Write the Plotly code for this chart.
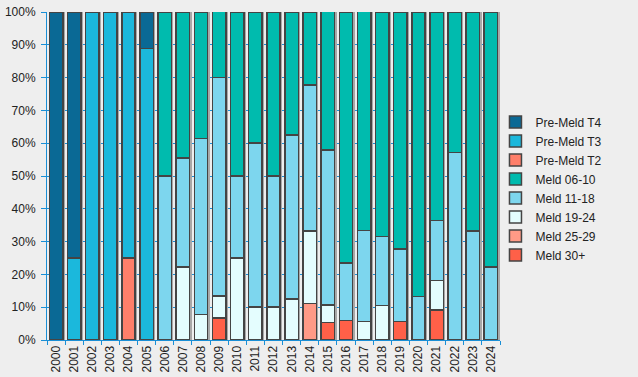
import plotly.graph_objects as go

years = [str(y) for y in range(2000, 2025)]

# percentages per year (2000..2024)
pre_t4 = [100, 75, 0, 0, 0, 11.1] + [0] * 19
pre_t3 = [0, 25, 100, 100, 75, 88.9] + [0] * 19
pre_t2 = [0, 0, 0, 0, 25, 0] + [0] * 19
meld_0610 = [0] * 6 + [50, 44.4, 38.5, 20, 50, 40, 50, 37.5, 22.2, 42.1, 76.5, 66.7, 68.4, 72.2, 86.7, 63.6, 42.9, 66.7, 77.8]
meld_1118 = [0] * 6 + [50, 33.3, 53.8, 66.7, 25, 50, 40, 50, 44.4, 47.4, 17.6, 27.8, 21.1, 22.2, 13.3, 18.2, 57.1, 33.3, 22.2]
meld_1924 = [0] * 6 + [0, 22.2, 7.7, 6.7, 25, 10, 10, 12.5, 22.2, 5.3, 0, 5.6, 10.5, 0, 0, 9.1, 0, 0, 0]
meld_2529 = [0] * 14 + [11.1] + [0] * 10
meld_30 = [0] * 9 + [6.7, 0, 0, 0, 0, 0, 5.3, 5.9, 0, 0, 5.6, 0, 9.1, 0, 0, 0]

# stacking order bottom -> top
series = [
    ("Meld 30+", meld_30, "#ff6048"),
    ("Meld 25-29", meld_2529, "#ff9a86"),
    ("Meld 19-24", meld_1924, "#e4fdfe"),
    ("Meld 11-18", meld_1118, "#7dd6ee"),
    ("Meld 06-10", meld_0610, "#00bbae"),
    ("Pre-Meld T2", pre_t2, "#ff7f6a"),
    ("Pre-Meld T3", pre_t3, "#1bb8dc"),
    ("Pre-Meld T4", pre_t4, "#0a6995"),
]

totals = [sum(s[1][i] for s in series) for i in range(len(years))]

BLUE = "#1a8fd6"
W = 0.74

fig = go.Figure()
# drop shadow behind each bar
fig.add_trace(go.Bar(x=years, y=totals, xaxis="x", yaxis="y", width=W, offset=-W / 2 + 0.11,
                     marker=dict(color="#a8a8a8", line=dict(width=0)), showlegend=False,
                     hoverinfo="skip"))
for name, vals, col in series:
    fig.add_trace(go.Bar(
        x=years, y=[v if v else None for v in vals], name=name, xaxis="x2", yaxis="y",
        width=W, marker=dict(color=col, line=dict(color="#444444", width=1.5)),
    ))

fig.update_layout(
    width=638, height=377,
    barmode="stack",
    paper_bgcolor="#eeeeee", plot_bgcolor="#eeeeee",
    margin=dict(l=47, r=138, t=12, b=37, autoexpand=False),
    font=dict(family="Liberation Sans, Arial, sans-serif", size=12, color="#222222"),
    xaxis=dict(type="category", categoryorder="array", categoryarray=years,
               tickangle=-90, showline=True, linecolor=BLUE, linewidth=1,
               ticks="outside", tickcolor=BLUE, ticklen=4, tickson="boundaries",
               showgrid=False, range=[-0.5, 24.5], automargin=False),
    xaxis2=dict(type="category", categoryorder="array", categoryarray=years,
                overlaying="x", visible=False, range=[-0.5, 24.5], automargin=False),
    yaxis=dict(range=[0, 100], dtick=10, ticksuffix="%", showline=True, linecolor=BLUE,
               linewidth=1, ticks="outside", tickcolor=BLUE, ticklen=5, automargin=False,
               ticklabelstandoff=3,
               showgrid=True, gridcolor=BLUE, gridwidth=1, zeroline=False),
    legend=dict(traceorder="reversed", x=0.99, xanchor="left", y=0.462, yanchor="middle",
                bgcolor="rgba(0,0,0,0)", font=dict(size=12), tracegroupgap=0),
    bargap=0.26,
)

fig.write_html("out.html", config={"displayModeBar": False},
               post_script="document.body.style.margin='0';")
